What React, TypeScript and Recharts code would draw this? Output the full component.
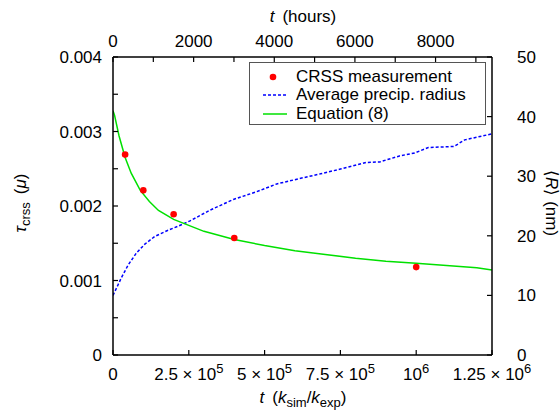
import { ComposedChart, Label, Legend, Line, Scatter, XAxis, YAxis } from 'recharts'

const FONT = '"Liberation Sans", Arial, Helvetica, sans-serif'

// CRSS measurements (t in k_sim/k_exp, tau in units of mu)
const crssTime = [40000, 100000, 200000, 400000, 1000000]
const crssValue = [0.00269, 0.00221, 0.00189, 0.00157, 0.00118]

// Equation (8)
const eqTime = [
  0, 5000, 20000, 40000, 60000, 90000, 120000, 150000, 200000, 250000, 300000,
  400000, 500000, 600000, 700000, 800000, 900000, 1000000, 1100000, 1200000,
  1250000,
]
const eqValue = [
  0.00328, 0.00322, 0.00294, 0.00265, 0.00244, 0.00221, 0.00206, 0.00194,
  0.00182, 0.00174, 0.00166, 0.00155, 0.00147, 0.0014, 0.00135, 0.0013,
  0.00126, 0.00123, 0.0012, 0.00117, 0.00114,
]

// Average precipitate radius (nm)
const radiusTime = [
  0, 16000, 27000, 50000, 77000, 105000, 138000, 176000, 214000, 254000,
  320000, 397000, 474000, 540000, 615000, 685000, 750000, 835000, 880000,
  945000, 995000, 1040000, 1125000, 1160000, 1250000,
]
const radiusValue = [
  10.0, 11.7, 12.9, 15.1, 17.1, 18.6, 19.9, 20.8, 21.6, 22.5, 24.3, 26.1, 27.4,
  28.7, 29.6, 30.4, 31.2, 32.3, 32.4, 33.4, 33.9, 34.8, 35.0, 36.1, 37.1,
]

// axis ticks
const tTicks = [0, 250000, 500000, 750000, 1000000, 1250000]
const tTickMantissa = ['0', '2.5', '5', '7.5', '', '1.25']
const tTickExp = ['', '5', '5', '5', '6', '6']
const hourTicks = [0, 1000, 2000, 3000, 4000, 5000, 6000, 7000, 8000, 9000]
const tauTicks = [0, 0.0005, 0.001, 0.0015, 0.002, 0.0025, 0.003, 0.0035, 0.004]
const radiusTicks = [0, 10, 20, 30, 40, 50]

const crssData = crssTime.map((t, i) => ({ t, tau: crssValue[i] }))
const eqData = eqTime.map((t, i) => ({ t, tau: eqValue[i] }))
const radiusData = radiusTime.map((t, i) => ({ t, R: radiusValue[i] }))
// only there so the top (hours) axis gets drawn
const hoursData = hourTicks.map((h) => ({ h }))

const tickStyle = { fill: '#000', fontSize: 17, fontFamily: FONT }
const axisLine = { stroke: '#000', strokeWidth: 1.5 }
const tickLine = { stroke: '#000', strokeWidth: 1.2 }

const BottomTick = (props: any) => {
  const { x, y, payload } = props
  const i = tTicks.indexOf(payload.value)
  const m = tTickMantissa[i]
  const e = tTickExp[i]
  return (
    <text x={x} y={y + 13} textAnchor="middle" {...tickStyle}>
      {e === '' ? m : m === '' ? '10' : `${m} × 10`}
      {e !== '' && (
        <tspan dy={-7} fontSize={13}>
          {e}
        </tspan>
      )}
    </text>
  )
}

const legendItems = [
  { name: 'CRSS measurement', kind: 'dot', color: '#ff0000' },
  { name: 'Average precip. radius', kind: 'dash', color: '#0000ff' },
  { name: 'Equation (8)', kind: 'line', color: '#00e000' },
]

const LegendBox = () => (
  <div
    style={{
      width: 237,
      height: 63,
      border: '1px solid #555',
      boxSizing: 'border-box',
      background: '#fff',
      fontFamily: FONT,
      fontSize: 17,
      color: '#000',
      paddingTop: 5,
    }}
  >
    {legendItems.map((item) => (
      <div
        key={item.name}
        style={{ display: 'flex', alignItems: 'center', height: 18.3 }}
      >
        <svg width={46} height={18} style={{ flex: 'none' }}>
          {item.kind === 'dot' ? (
            <circle cx={23} cy={9} r={3.3} fill={item.color} />
          ) : (
            <line
              x1={13}
              x2={37}
              y1={9}
              y2={9}
              stroke={item.color}
              strokeWidth={1.5}
              strokeDasharray={item.kind === 'dash' ? '3 2' : undefined}
            />
          )}
        </svg>
        <span style={{ lineHeight: '18px', whiteSpace: 'nowrap' }}>
          {item.name}
        </span>
      </div>
    ))}
  </div>
)

export default function App() {
  return (
    <div style={{ position: 'absolute', left: 0, top: 0 }}>
      <ComposedChart
        width={560}
        height={410}
        margin={{ top: 0, right: 0, bottom: 0, left: 0 }}
        style={{ background: '#fff' }}
      >
        <XAxis
          xAxisId="t"
          dataKey="t"
          type="number"
          domain={[0, 1250000]}
          ticks={tTicks}
          allowDataOverflow
          height={55}
          axisLine={axisLine}
          tickLine={tickLine}
          tickSize={-5}
          tickMargin={17}
          tick={<BottomTick />}
          interval={0}
        >
          <Label
            content={() => (
              <text x={303} y={403} textAnchor="middle" {...tickStyle}>
                <tspan fontStyle="italic">t</tspan>
                <tspan dx={8}>(</tspan>
                <tspan fontStyle="italic">k</tspan>
                <tspan dy={4} fontSize={13}>
                  sim
                </tspan>
                <tspan dy={-4}>/</tspan>
                <tspan fontStyle="italic">k</tspan>
                <tspan dy={4} fontSize={13}>
                  exp
                </tspan>
                <tspan dy={-4}>)</tspan>
              </text>
            )}
          />
        </XAxis>
        <XAxis
          xAxisId="h"
          dataKey="h"
          orientation="top"
          type="number"
          domain={[0, 9400]}
          ticks={hourTicks}
          allowDataOverflow
          height={57}
          axisLine={axisLine}
          tickLine={tickLine}
          tickSize={-5}
          tickMargin={15}
          tick={tickStyle}
          interval={0}
          tickFormatter={(v: number) => (v % 2000 === 0 ? String(v) : '')}
        >
          <Label
            content={() => (
              <text x={303} y={22} textAnchor="middle" {...tickStyle}>
                <tspan fontStyle="italic">t</tspan>
                <tspan dx={8}>(hours)</tspan>
              </text>
            )}
          />
        </XAxis>
        <YAxis
          yAxisId="tau"
          dataKey="tau"
          type="number"
          domain={[0, 0.004]}
          ticks={tauTicks}
          allowDataOverflow
          width={113}
          axisLine={axisLine}
          tickLine={tickLine}
          tickSize={-5}
          tickMargin={16}
          tick={tickStyle}
          interval={0}
          tickFormatter={(v: number) =>
            Math.round(v * 10000) % 10 !== 0 ? '' : v === 0 ? '0' : v.toFixed(3)
          }
        >
          <Label
            content={() => (
              <text
                transform="translate(26,203) rotate(-90)"
                textAnchor="middle"
                {...tickStyle}
              >
                <tspan fontStyle="italic">τ</tspan>
                <tspan dy={4} fontSize={13}>
                  crss
                </tspan>
                <tspan dy={-4} dx={8}>
                  (
                </tspan>
                <tspan fontStyle="italic">μ</tspan>
                <tspan>)</tspan>
              </text>
            )}
          />
        </YAxis>
        <YAxis
          yAxisId="R"
          orientation="right"
          type="number"
          domain={[0, 50]}
          ticks={radiusTicks}
          allowDataOverflow
          width={68}
          axisLine={axisLine}
          tickLine={tickLine}
          tickSize={-5}
          tickMargin={30}
          tick={tickStyle}
          interval={0}
        >
          <Label
            content={() => (
              <text
                transform="translate(546,203) rotate(90)"
                textAnchor="middle"
                {...tickStyle}
              >
                <tspan>⟨</tspan>
                <tspan fontStyle="italic">R</tspan>
                <tspan>⟩</tspan>
                <tspan dx={5}>(nm)</tspan>
              </text>
            )}
          />
        </YAxis>
        <Legend
          layout="vertical"
          align="center"
          verticalAlign="middle"
          wrapperStyle={{ top: 62, left: 249, width: 237 }}
          content={() => <LegendBox />}
        />
        <Line
          xAxisId="h"
          yAxisId="R"
          data={hoursData}
          dataKey="R"
          stroke="none"
          dot={false}
          activeDot={false}
          legendType="none"
          isAnimationActive={false}
        />
        <Line
          xAxisId="t"
          yAxisId="R"
          data={radiusData}
          dataKey="R"
          type="linear"
          stroke="#0000ff"
          strokeWidth={1.5}
          strokeDasharray="3 2"
          dot={false}
          activeDot={false}
          isAnimationActive={false}
        />
        <Line
          xAxisId="t"
          yAxisId="tau"
          data={eqData}
          dataKey="tau"
          type="linear"
          stroke="#00e000"
          strokeWidth={1.5}
          dot={false}
          activeDot={false}
          isAnimationActive={false}
        />
        <Scatter
          xAxisId="t"
          yAxisId="tau"
          data={crssData}
          dataKey="tau"
          fill="#ff0000"
          shape={(p: any) => <circle cx={p.cx} cy={p.cy} r={3.3} fill="#ff0000" />}
          isAnimationActive={false}
        />
      </ComposedChart>
    </div>
  )
}
